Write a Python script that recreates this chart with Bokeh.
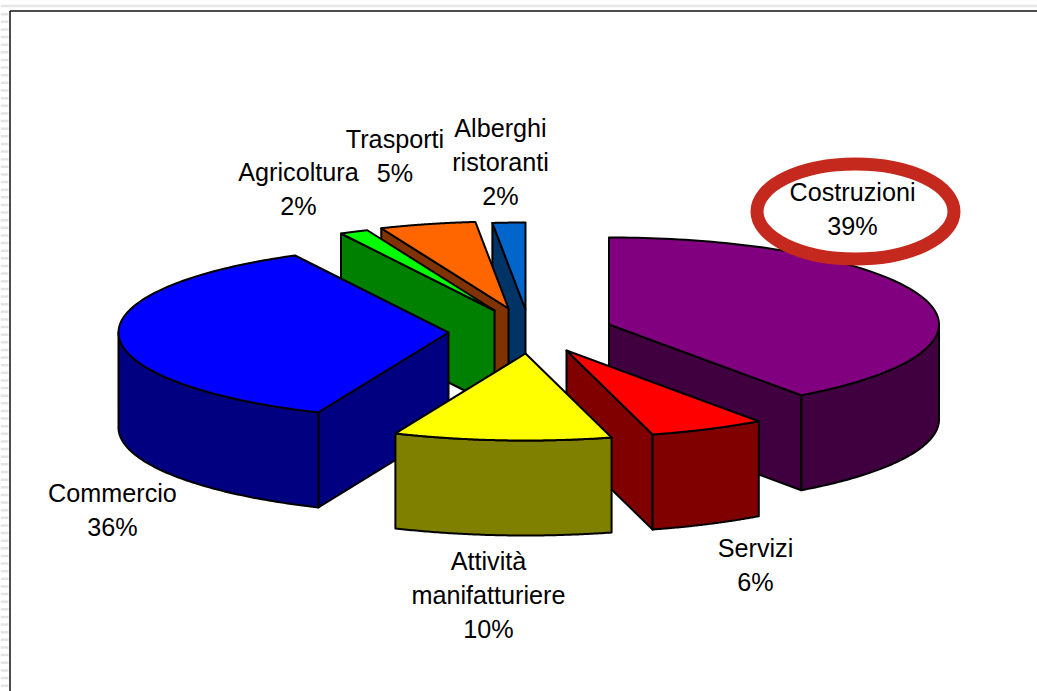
import numpy as np
from bokeh.plotting import figure
from bokeh.models import Range1d, ColumnDataSource
from bokeh.core.properties import value
from bokeh.embed import file_html
from bokeh.resources import INLINE

# --- data (clockwise from 12 o'clock) ---
categories = ["Costruzioni", "Servizi", "Attività manifatturiere", "Commercio",
              "Agricoltura", "Trasporti", "Alberghi ristoranti"]
shares = [40.1, 5.7, 10.65, 35.85, 1.4, 4.7, 1.6]
percent_labels = ["39%", "6%", "10%", "36%", "2%", "5%", "2%"]
label_lines = [["Costruzioni"], ["Servizi"], ["Attività", "manifatturiere"], ["Commercio"],
               ["Agricoltura"], ["Trasporti"], ["Alberghi", "ristoranti"]]

# --- style ---
top_colors = ["#800080", "#ff0000", "#ffff00", "#0000ff", "#00ff00", "#ff6600", "#0066cc"]
wall_colors = ["#400040", "#800000", "#808000", "#000080", "#008000", "#803300", "#003366"]

# --- layout (canvas pixels) ---
WIDTH, HEIGHT = 1037, 691
RX, RY, DEPTH = 330, 87, 95
apex_x = [608.5, 566, 525, 448, 494, 508, 525]
apex_y = [324, 350, 353, 332, 310, 308, 309]
label_x = [852, 755, 488, 112, 298, 394.5, 500]
label_top = [191.5, 547.5, 560.5, 492.5, 171.5, 138.5, 127.5]
LINE_GAP = 34.2
draw_order = [6, 5, 4, 3, 0, 1, 2]

p = figure(width=WIDTH, height=HEIGHT, output_backend="svg", toolbar_location=None,
           x_range=Range1d(0, WIDTH), y_range=Range1d(HEIGHT, 0),
           min_border=0, outline_line_color=None)
p.axis.visible = False
p.grid.visible = False

# ruled edge of the scanned page, outside the chart frame
band_y = list(np.arange(13.7, HEIGHT, 7.63))
p.segment(x0=[0] * len(band_y), y0=band_y, x1=[8] * len(band_y), y1=band_y,
          line_color="#e4e4e4", line_width=2.5)
p.segment(x0=[0], y0=[5.5], x1=[WIDTH], y1=[5.5], line_color="#e6e6e6", line_width=2.5)

# frame of the chart area
p.segment(x0=[9.5, 9.5], y0=[10.5, 10.5], x1=[WIDTH, 9.5], y1=[10.5, HEIGHT],
          line_color="#111111", line_width=1.5)

edges = np.concatenate([[0], np.cumsum(shares)]) / np.sum(shares) * 2 * np.pi


def rim(i, a):
    return apex_x[i] + RX * np.sin(a), apex_y[i] - RY * np.cos(a)


xs, ys, fills = [], [], []
for i in draw_order:
    a0, a1 = edges[i], edges[i + 1]
    # straight cut wall that faces the viewer
    if np.pi < a0 < 2 * np.pi:
        cut = a0
    elif 0 < a1 < np.pi:
        cut = a1
    else:
        cut = None
    if cut is not None:
        rx_, ry_ = rim(i, cut)
        xs.append([apex_x[i], rx_, rx_, apex_x[i]])
        ys.append([apex_y[i], ry_, ry_ + DEPTH, apex_y[i] + DEPTH])
        fills.append(wall_colors[i])
    # curved outer wall, only the front half of the rim
    lo, hi = max(a0, np.pi / 2), min(a1, 3 * np.pi / 2)
    if hi > lo:
        t = np.linspace(lo, hi, 90)
        ax, ay = rim(i, t)
        xs.append(list(ax) + list(ax[::-1]))
        ys.append(list(ay) + list(ay[::-1] + DEPTH))
        fills.append(wall_colors[i])
    # top face
    t = np.linspace(a0, a1, 120)
    ax, ay = rim(i, t)
    xs.append([apex_x[i]] + list(ax))
    ys.append([apex_y[i]] + list(ay))
    fills.append(top_colors[i])

p.patches(xs="xs", ys="ys", fill_color="fills", line_color="#000000", line_width=2,
          line_join="round", source=ColumnDataSource(dict(xs=xs, ys=ys, fills=fills)))

# highlight ring round the Costruzioni label
p.ellipse(x=[855], y=[211], width=[197], height=[95], fill_alpha=0,
          line_color="#c5281c", line_width=13)

tx, ty, tt = [], [], []
for i, lines in enumerate(label_lines):
    for k, s in enumerate(lines + [percent_labels[i]]):
        tx.append(label_x[i])
        ty.append(label_top[i] + k * LINE_GAP)
        tt.append(s)
p.text(x="x", y="y", text="t", source=ColumnDataSource(dict(x=tx, y=ty, t=tt)),
       text_font=value("Liberation Sans"), text_font_size="25.2px", text_color="#000000",
       text_align="center", text_baseline="middle")

open("out.html", "w").write(file_html(p, INLINE))
